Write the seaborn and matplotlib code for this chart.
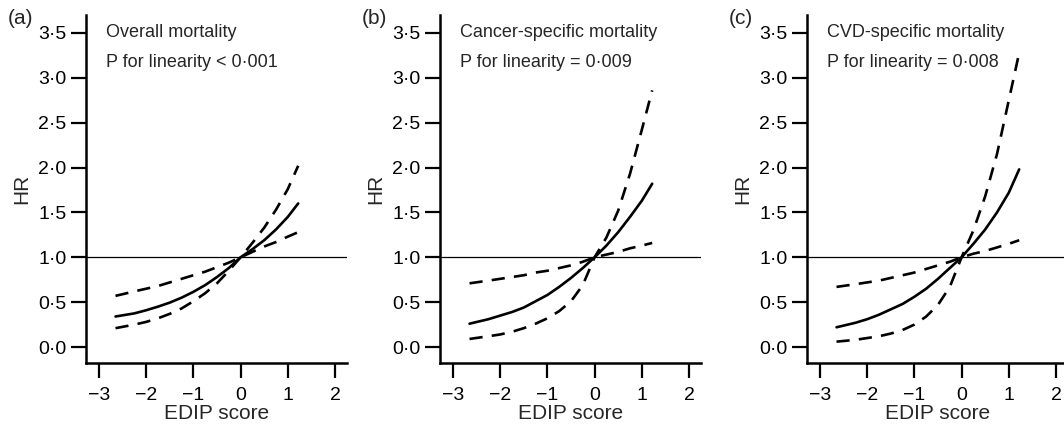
import numpy as np
import pandas as pd
import matplotlib
matplotlib.use("Agg")
import matplotlib.pyplot as plt
from matplotlib.ticker import FuncFormatter
import seaborn as sns

# EDIP score grid
edip = [-2.65, -2.25, -2.0, -1.75, -1.5, -1.25, -1.0, -0.75, -0.5, -0.25,
        0.0, 0.25, 0.5, 0.75, 1.0, 1.22]

# (a) overall mortality
hr_a = [0.34, 0.375, 0.41, 0.45, 0.495, 0.55, 0.615, 0.69, 0.78, 0.88,
        1.00, 1.09, 1.19, 1.31, 1.45, 1.60]
ci_flat_a = [0.57, 0.62, 0.65, 0.68, 0.72, 0.76, 0.80, 0.84, 0.89, 0.94,
             1.00, 1.06, 1.12, 1.17, 1.23, 1.28]
ci_steep_a = [0.21, 0.25, 0.28, 0.32, 0.37, 0.43, 0.51, 0.60, 0.71, 0.85,
              1.00, 1.16, 1.33, 1.53, 1.76, 2.02]

# (b) cancer-specific mortality
hr_b = [0.26, 0.31, 0.35, 0.39, 0.44, 0.51, 0.58, 0.67, 0.77, 0.88,
        1.00, 1.13, 1.28, 1.45, 1.63, 1.82]
ci_flat_b = [0.71, 0.74, 0.76, 0.78, 0.80, 0.83, 0.85, 0.88, 0.91, 0.95,
             1.00, 1.03, 1.06, 1.10, 1.13, 1.16]
ci_steep_b = [0.09, 0.12, 0.14, 0.17, 0.21, 0.26, 0.32, 0.40, 0.51, 0.69,
              1.00, 1.22, 1.52, 1.93, 2.42, 2.86]

# (c) CVD-specific mortality
hr_c = [0.22, 0.27, 0.31, 0.36, 0.42, 0.48, 0.56, 0.65, 0.76, 0.88,
        1.00, 1.15, 1.31, 1.50, 1.72, 1.98]
ci_flat_c = [0.67, 0.70, 0.72, 0.74, 0.77, 0.80, 0.83, 0.87, 0.91, 0.95,
             1.00, 1.04, 1.07, 1.11, 1.15, 1.19]
ci_steep_c = [0.06, 0.08, 0.10, 0.12, 0.15, 0.19, 0.25, 0.34, 0.47, 0.67,
              1.00, 1.30, 1.68, 2.15, 2.75, 3.28]

letters = ["(a)", "(b)", "(c)"]
titles = ["Overall mortality", "Cancer-specific mortality", "CVD-specific mortality"]
p_texts = ["P for linearity < 0\u00b7001", "P for linearity = 0\u00b7009",
           "P for linearity = 0\u00b7008"]
panels = [(hr_a, ci_flat_a, ci_steep_a), (hr_b, ci_flat_b, ci_steep_b),
          (hr_c, ci_flat_c, ci_steep_c)]

sns.set_style("ticks")
plt.rcParams['font.family'] = ['Liberation Sans', 'DejaVu Sans']

W, H = 1064, 432
fig = plt.figure(figsize=(W / 100, H / 100), dpi=100)

lefts = [86, 440, 807]
ax_w = 261
ax_top, ax_bot = 15, 363

y_fmt = FuncFormatter(lambda v, p: f"{v:.1f}".replace(".", "\u00b7"))
x_fmt = FuncFormatter(lambda v, p: f"{int(round(v))}".replace("-", "\u2212"))

for i, (hr, flat, steep) in enumerate(panels):
    ax = fig.add_axes([lefts[i] / W, (H - ax_bot) / H, ax_w / W, (ax_bot - ax_top) / H])
    df = pd.DataFrame({"EDIP": edip, "hr": hr, "flat": flat, "steep": steep})
    ax.axhline(1.0, color="black", lw=0.9, zorder=1)
    sns.lineplot(data=df, x="EDIP", y="hr", ax=ax, color="black", lw=1.9)
    # dashed 95% CI bounds
    sns.lineplot(data=df, x="EDIP", y="flat", ax=ax, color="black", lw=1.9,
                 linestyle=(0, (5, 3.5)))
    sns.lineplot(data=df, x="EDIP", y="steep", ax=ax, color="black", lw=1.9,
                 linestyle=(0, (5, 3.5)))

    ax.set_xlim(-3.275, 2.254)
    ax.set_ylim(-0.178, 3.70)
    ax.set_xticks([-3, -2, -1, 0, 1, 2])
    ax.set_yticks(np.arange(0, 3.51, 0.5))
    ax.xaxis.set_major_formatter(x_fmt)
    ax.yaxis.set_major_formatter(y_fmt)
    ax.tick_params(axis="both", direction="out", length=11, width=1.6,
                   labelsize=14, color="black", labelcolor="black")
    ax.tick_params(axis="y", pad=3)
    ax.tick_params(axis="x", pad=6)
    for s in ["left", "bottom"]:
        ax.spines[s].set_linewidth(1.8)
        ax.spines[s].set_color("black")
    sns.despine(ax=ax)

    ax.set_xlabel("EDIP score", fontsize=15, labelpad=0)
    ax.set_ylabel("HR", fontsize=15, labelpad=5)

    ax.text(-2.86, 3.5, titles[i], fontsize=13, va="center", ha="left")
    ax.text(-2.86, 3.17, p_texts[i], fontsize=13, va="center", ha="left")

    fig.text((lefts[i] - 78) / W, (H - 19) / H, letters[i], fontsize=15,
             ha="left", va="center")

fig.savefig("out.png", dpi=100)
